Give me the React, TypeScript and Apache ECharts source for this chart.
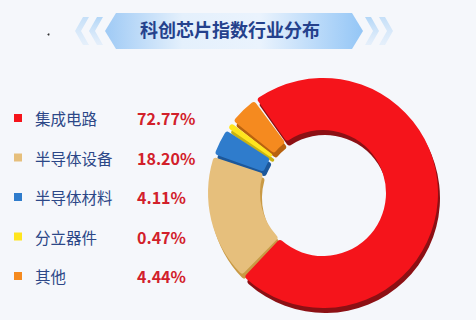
import React, { useEffect, useRef } from "react";
import * as echarts from "echarts";

const categories = ["集成电路", "半导体设备", "半导体材料", "分立器件", "其他"];
const values = [72.77, 18.2, 4.11, 0.47, 4.44];
const valueLabels = ["72.77%", "18.20%", "4.11%", "0.47%", "4.44%"];
const colors = ["#f5141b", "#e6bf7c", "#2f7ccc", "#ffe51e", "#f58a1f"];
const shadowColors = ["#8c1014", "#c99a45", "#1c579a", "#c9b312", "#b8620f"];
const title = "科创芯片指数行业分布";

function chevron(x: number, dir: number, opacityTop: number) {
  const y0 = 17, y1 = 45, yc = 31, w = 14, t = 6;
  let pts: number[][];
  if (dir < 0) {
    pts = [[x + w - t, y0], [x + w, y0], [x + t, yc], [x + w, y1], [x + w - t, y1], [x, yc]];
  } else {
    pts = [[x, y0], [x + t, y0], [x + w, yc], [x + t, y1], [x, y1], [x + w - t, yc]];
  }
  return {
    type: "polygon",
    shape: { points: pts },
    style: {
      fill: new echarts.graphic.LinearGradient(0, 0, 0, 1, [
        { offset: 0, color: `rgba(150,200,245,${opacityTop})` },
        { offset: 1, color: "rgba(200,225,250,0.35)" },
      ]),
    },
    silent: true,
  };
}

export default function App() {
  const ref = useRef<HTMLDivElement>(null);
  useEffect(() => {
    if (!ref.current) return;
    const chart = echarts.init(ref.current, undefined, { renderer: "svg" });
    const data = categories.map((c, i) => ({ name: c, value: values[i], itemStyle: { color: colors[i] } }));
    const shadowData = categories.map((c, i) => ({ name: c, value: values[i], itemStyle: { color: shadowColors[i] } }));
    const labelMap: Record<string, string> = {};
    categories.forEach((c, i) => (labelMap[c] = valueLabels[i]));
    const pieCommon = {
      type: "pie",
      radius: [63, 115],
      startAngle: 126,
      clockwise: true,
      padAngle: 1.5,
      minAngle: 3,
      label: { show: false },
      labelLine: { show: false },
      emphasis: { disabled: true },
      itemStyle: { borderRadius: 3 },
    };
    chart.setOption({
      animation: false,
      backgroundColor: "#f5f7fb",
      textStyle: { fontFamily: "Noto Sans CJK SC" },
      legend: {
        orient: "vertical",
        left: 14,
        top: 110,
        padding: 0,
        itemWidth: 8,
        itemHeight: 8,
        itemGap: 23.5,
        icon: "rect",
        selectedMode: false,
        data: categories,
        formatter: (name: string) => `{n|${name}}{v|${labelMap[name]}}`,
        textStyle: {
          rich: {
            n: { fontSize: 15.5, color: "#2c4787", width: 102, padding: [0, 0, 0, 8], fontFamily: "Noto Sans CJK SC" },
            v: { fontSize: 16, color: "#d2202a", fontWeight: "bold", fontFamily: "Noto Sans CJK SC" },
          },
        },
      },
      graphic: [
        {
          type: "polygon",
          shape: { points: [[105, 31], [116, 13], [352, 13], [363, 31], [352, 49], [116, 49]] },
          style: {
            fill: new echarts.graphic.LinearGradient(0, 0, 1, 0, [
              { offset: 0, color: "#9fcaf5" },
              { offset: 0.3, color: "#e4f0fc" },
              { offset: 0.6, color: "#eaf3fd" },
              { offset: 1, color: "#94c6f6" },
            ]),
          },
          silent: true,
        },
        chevron(75, -1, 0.5),
        chevron(89, -1, 0.7),
        chevron(365, 1, 0.7),
        chevron(379, 1, 0.5),
        {
          type: "text",
          left: 140,
          top: 20,
          style: { text: title, fontSize: 18, fontWeight: "bold", fill: "#24418c", fontFamily: "Noto Sans CJK SC" },
          silent: true,
        },
        { type: "circle", shape: { cx: 48.5, cy: 34.5, r: 1 }, style: { fill: "#333" }, silent: true },
      ],
      series: [
        { ...pieCommon, name: "main", z: 3, center: [323, 193], data },
        { ...pieCommon, name: "shadow", z: 2, silent: true, center: [325, 198], data: shadowData },
      ],
    });
    return () => chart.dispose();
  }, []);
  return <div ref={ref} style={{ position: "fixed", left: 0, top: 0, width: 476, height: 320 }} />;
}
